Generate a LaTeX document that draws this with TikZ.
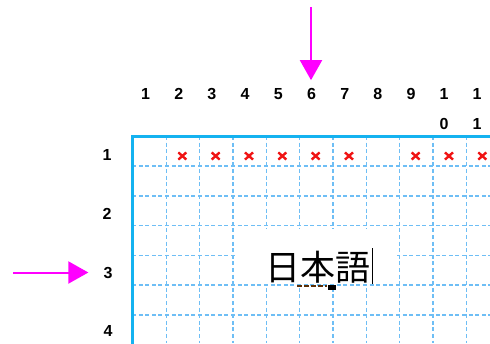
\documentclass[tikz,border=0pt]{standalone}
\usepackage{fontspec}
\setmainfont{Liberation Sans}
\newfontfamily\jpfont{Noto Sans CJK JP}
\usetikzlibrary{arrows.meta}
\definecolor{frameblue}{RGB}{20,178,240}
\definecolor{gridblue}{RGB}{110,190,245}
\definecolor{mag}{RGB}{255,0,255}
\definecolor{xred}{RGB}{240,20,20}
\definecolor{ulbrown}{RGB}{90,45,5}
\tikzset{
  lbl/.style={inner sep=0pt,font=\bfseries\fontsize{16}{16}\selectfont},
  gridline/.style={gridblue,line width=1.6pt,dash pattern=on 4pt off 2.6pt},
  marrow/.style={mag,line width=2pt,-{Triangle[width=22pt,length=20pt]}},
  xmark/.style={xred,line width=2.4pt},
}
\begin{document}
\begin{tikzpicture}[x=1pt,y=-1pt]
\useasboundingbox (0,0) rectangle (490,343);
\begin{scope}
\clip (0,0) rectangle (490,343);
% grid
\foreach \k in {1,...,10}{
  \draw[gridline] ({133+33.33*\k},136) -- ({133+33.33*\k},343);
}
\foreach \k in {1,...,7}{
  \draw[gridline] (132,{136+29.85*\k}) -- (490,{136+29.85*\k});
}
% white box behind text
\node (bg) [fill=white,inner sep=0pt,minimum width=162pt,minimum height=55pt] at (316,256) {};
% red x marks
\foreach \c in {2,3,4,5,6,7,9,10,11}{
  \draw[xmark] ({150+33.33*(\c-1)-1-4},{156-3.6}) -- ({150+33.33*(\c-1)-1+4},{156+3.6});
  \draw[xmark] ({150+33.33*(\c-1)-1-4},{156+3.6}) -- ({150+33.33*(\c-1)-1+4},{156-3.6});
}
% frame
\draw[frameblue,line width=3pt] (132.5,136) rectangle (700,600);
\end{scope}
% column labels
\foreach \c in {1,...,9}{
  \node[lbl] (c\c) at ({145.5+33.2*(\c-1)},94) {\c};
}
\node[lbl] (c10a) at (444,94) {1};
\node[lbl] (c10b) at (444,124) {0};
\node[lbl] (c11a) at (477,94) {1};
\node[lbl] (c11b) at (477,124) {1};
% row labels
\node[lbl] (r1) at (107,155) {1};
\node[lbl] (r2) at (107,214) {2};
\node[lbl] (r3) at (108,272.5) {3};
\node[lbl] (r4) at (108,331) {4};
% Japanese text
\node[inner sep=0pt,anchor=base,font=\jpfont\fontsize{35}{35}\selectfont] (jp) at (318,280) {日本語};
% underline and caret
\draw[ulbrown,line width=2.4pt,dash pattern=on 5pt off 2pt] (297,286) -- (327,286);
\fill[black] (328,285) rectangle (336,289.5);
\draw[black,line width=1pt] (372,248) -- (372,284);
% arrows
\coordinate (topstart) at (311,7);
\coordinate (leftstart) at (13,272.5);
\draw[marrow,shorten >=8pt] (topstart) -- (topstart |- c6.north);
\draw[marrow,shorten >=15pt] (leftstart) -- (r3.west);
\end{tikzpicture}
\end{document}
